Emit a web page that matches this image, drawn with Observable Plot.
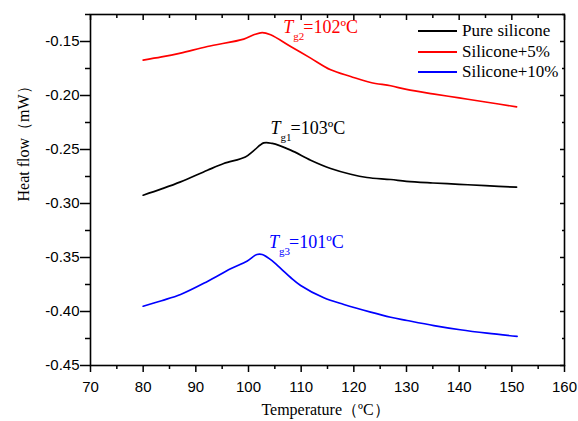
<!DOCTYPE html>
<html><head><meta charset="utf-8">
<script src="https://cdn.jsdelivr.net/npm/d3@7"></script>
<script src="https://cdn.jsdelivr.net/npm/@observablehq/plot@0.6"></script>
<style>
body{margin:0;background:#fff;}
#chart{position:relative;width:578px;height:421px;}
#legend{position:absolute;left:418px;top:20.75px;font-family:"Liberation Serif","Times New Roman",serif;font-size:17px;color:#000;}
.row{display:flex;align-items:center;height:20.5px;white-space:nowrap;}
.sw{width:39px;height:2px;margin-right:5px;}
</style></head><body><div id="chart"></div>
<script>
// Series names & colours
const seriesNames = ["Pure silicone", "Silicone+5%", "Silicone+10%"];
const seriesColors = ["#000000", "#ff0000", "#0000ff"];

// Pure silicone
const pureT  = [80, 83.5, 87.1, 92.2, 95.3, 99.4, 101.0, 102.9, 104.5, 108.0, 111.8, 115.6, 119.4, 122.5, 127.0, 130.0, 135.0, 140.0, 145.0, 150.9];
const pureHF = [-0.2923, -0.2865, -0.2800, -0.2692, -0.2630, -0.2569, -0.2510, -0.2439, -0.2444, -0.2506, -0.2599, -0.2676, -0.2729, -0.2759, -0.2778, -0.2795, -0.2810, -0.2822, -0.2835, -0.2849];

// Silicone + 5%
const s5T  = [80, 83.5, 87.1, 92.2, 99.1, 101.0, 102.6, 104.2, 108.0, 111.8, 115.6, 119.4, 123.2, 127.0, 130.0, 135.0, 140.0, 145.0, 150.9];
const s5HF = [-0.1672, -0.1643, -0.1607, -0.1546, -0.1478, -0.1438, -0.1417, -0.1438, -0.1546, -0.1654, -0.1762, -0.1824, -0.1880, -0.1910, -0.1944, -0.1985, -0.2022, -0.2060, -0.2105];

// Silicone + 10%
const s10T  = [80, 83.5, 87.1, 92.2, 96.6, 99.7, 101.6, 102.6, 104.2, 106.1, 108.0, 109.9, 114.3, 118.1, 123.2, 127.0, 130.1, 135.2, 140.2, 145.3, 151.0];
const s10HF = [-0.3951, -0.3900, -0.3843, -0.3722, -0.3605, -0.3534, -0.3472, -0.3472, -0.3520, -0.3600, -0.3685, -0.3759, -0.3873, -0.3935, -0.4006, -0.4053, -0.4083, -0.4130, -0.4169, -0.4201, -0.4231];

// Axis ticks
const xTicks = [70, 80, 90, 100, 110, 120, 130, 140, 150, 160];
const xMinor = [75, 85, 95, 105, 115, 125, 135, 145, 155];
const yTicks = [-0.45, -0.40, -0.35, -0.30, -0.25, -0.20, -0.15];
const yMinor = [-0.425, -0.375, -0.325, -0.275, -0.225, -0.175, -0.125];

// Annotations (Tg labels)
const annoX = [106.6, 104.2, 103.9];
const annoY = [-0.1422, -0.2352, -0.3411];
const annoSub = ["g2", "g1", "g3"];
const annoValue = ["=102ºC", "=103ºC", "=101ºC"];
const annoColor = ["#ff0000", "#000000", "#0000ff"];

const xLabel = "Temperature（ºC）";
const yLabel = "Heat flow（mW）";

const rows = [];
[[pureT, pureHF], [s5T, s5HF], [s10T, s10HF]].forEach(([T, H], i) => {
  T.forEach((t, j) => rows.push({series: seriesNames[i], t, hf: H[j]}));
});
const annos = annoX.map((x, i) => ({x, y: annoY[i], sub: annoSub[i], value: annoValue[i], color: annoColor[i]}));

const serif = "Liberation Serif, Times New Roman, serif";
const sans = "Liberation Sans, Arial, sans-serif";

const chart = Plot.plot({
  width: 578, height: 421,
  marginLeft: 90, marginRight: 14, marginTop: 14, marginBottom: 56,
  x: {domain: [70, 160]},
  y: {domain: [-0.45, -0.125]},
  color: {domain: seriesNames, range: seriesColors},
  style: {fontFamily: sans, fontSize: "15px", color: "#000", background: "#fff"},
  marks: [
    Plot.line(rows, {x: "t", y: "hf", stroke: "series", z: "series", strokeWidth: 1.7, curve: "catmull-rom"}),
    Plot.frame({stroke: "#000", strokeWidth: 1.6}),
    Plot.axisX({ticks: xTicks, tickSize: 7, tickPadding: 9, tickFormat: d => String(d), label: null, strokeWidth: 1.5, fontSize: 15, fontFamily: sans}),
    Plot.axisX({ticks: xMinor, tickSize: 4, fill: "none", label: null, strokeWidth: 1.5}),
    Plot.axisX({anchor: "top", ticks: xTicks, tickSize: 5, dy: 5, fill: "none", label: null, strokeWidth: 1.5}),
    Plot.axisX({anchor: "top", ticks: xMinor, tickSize: 3, dy: 3, fill: "none", label: null, strokeWidth: 1.5}),
    Plot.axisY({ticks: yTicks, tickSize: 10, tickPadding: 1, tickFormat: d => d.toFixed(2), label: null, strokeWidth: 1.5, fontSize: 15, fontFamily: sans}),
    Plot.axisY({ticks: yMinor, tickSize: 5, fill: "none", label: null, strokeWidth: 1.5}),
    Plot.axisY({anchor: "right", ticks: yTicks, tickSize: 5, dx: -5, fill: "none", label: null, strokeWidth: 1.5}),
    Plot.axisY({anchor: "right", ticks: yMinor, tickSize: 3, dx: -3, fill: "none", label: null, strokeWidth: 1.5}),
    Plot.text(annos, {x: "x", y: "y", text: () => "T", fill: "color", fontStyle: "italic", fontSize: 18, fontFamily: serif, textAnchor: "start", lineAnchor: "bottom"}),
    Plot.text(annos, {x: "x", y: "y", text: "sub", fill: "color", fontSize: 11, fontFamily: serif, textAnchor: "start", lineAnchor: "bottom", dx: 10, dy: 7}),
    Plot.text(annos, {x: "x", y: "y", text: "value", fill: "color", fontSize: 18, fontFamily: serif, textAnchor: "start", lineAnchor: "bottom", dx: 20}),
    Plot.text([xLabel], {frameAnchor: "bottom", text: d => d, dy: 49, dx: -2, lineAnchor: "bottom", fontSize: 16, fontFamily: serif, fill: "#000"}),
    Plot.text([yLabel], {frameAnchor: "left", text: d => d, rotate: -90, dx: -62, dy: 11.5, lineAnchor: "bottom", fontSize: 16, fontFamily: serif, fill: "#000"})
  ]
});

const container = document.getElementById("chart");
container.appendChild(chart);

const legend = document.createElement("div");
legend.id = "legend";
seriesNames.forEach((name, i) => {
  const row = document.createElement("div");
  row.className = "row";
  const sw = document.createElement("span");
  sw.className = "sw";
  sw.style.background = seriesColors[i];
  const label = document.createElement("span");
  label.textContent = name;
  row.appendChild(sw);
  row.appendChild(label);
  legend.appendChild(row);
});
container.appendChild(legend);
</script>
</body></html>
